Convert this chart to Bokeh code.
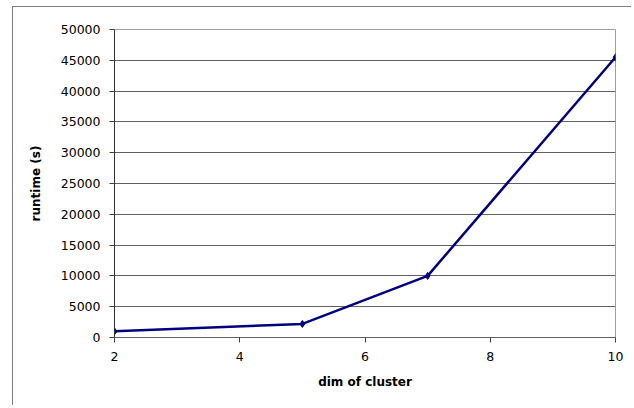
from bokeh.plotting import figure
from bokeh.embed import file_html
from bokeh.resources import INLINE
from bokeh.models import Range1d, FixedTicker, NumeralTickFormatter

# data
dims = [2, 5, 7, 10]
runtimes = [1000, 2200, 10000, 45500]
x_ticks = [2, 4, 6, 8, 10]
y_ticks = list(range(0, 50001, 5000))
grid_ticks = list(range(5000, 45001, 5000))

W, H = 619, 399
p = figure(width=W, height=H, output_backend="svg", toolbar_location=None,
           x_range=Range1d(2, 10), y_range=Range1d(0, 50000),
           min_border_left=101, min_border_right=W - 602,
           min_border_top=22, min_border_bottom=H - 330,
           styles={"border-left": "1px solid #808080", "border-top": "1px solid #808080",
                   "margin-left": "12px", "margin-top": "6px"})

p.background_fill_color = "white"
p.border_fill_color = "white"
p.outline_line_color = "#a0a0a0"
p.outline_line_width = 1

p.xgrid.visible = False
p.ygrid.ticker = FixedTicker(ticks=grid_ticks)
p.ygrid.grid_line_color = "#606060"
p.ygrid.grid_line_width = 1

p.xaxis.ticker = FixedTicker(ticks=x_ticks)
p.yaxis.ticker = FixedTicker(ticks=y_ticks)
p.yaxis.formatter = NumeralTickFormatter(format="0")

for ax in (p.xaxis[0], p.yaxis[0]):
    ax.major_label_text_font = "DejaVu Sans"
    ax.major_label_text_font_size = "12.5px"
    ax.major_label_text_color = "black"
    ax.axis_label_text_font = "DejaVu Sans"
    ax.axis_label_text_font_size = "12px"
    ax.axis_label_text_font_style = "bold"
    ax.axis_label_text_color = "black"
    ax.major_tick_in = 0
    ax.major_tick_out = 5
    ax.minor_tick_in = 0
    ax.minor_tick_out = 0

p.xaxis.axis_label = "dim of cluster"
p.yaxis.axis_label = "runtime (s)"
p.xaxis.axis_line_color = "#606060"
p.xaxis.major_tick_line_color = "#404040"
p.yaxis.axis_line_color = "#303030"
p.yaxis.major_tick_line_color = "#404040"
p.yaxis.major_label_standoff = 9
p.xaxis.major_label_standoff = 9
p.yaxis.axis_label_standoff = 15
p.xaxis.axis_label_standoff = 11

p.line(dims, runtimes, line_color="#000080", line_width=2.5)
p.scatter(dims, runtimes, marker="diamond", size=7, color="#000080")

open("out.html", "w").write(file_html(p, INLINE))
